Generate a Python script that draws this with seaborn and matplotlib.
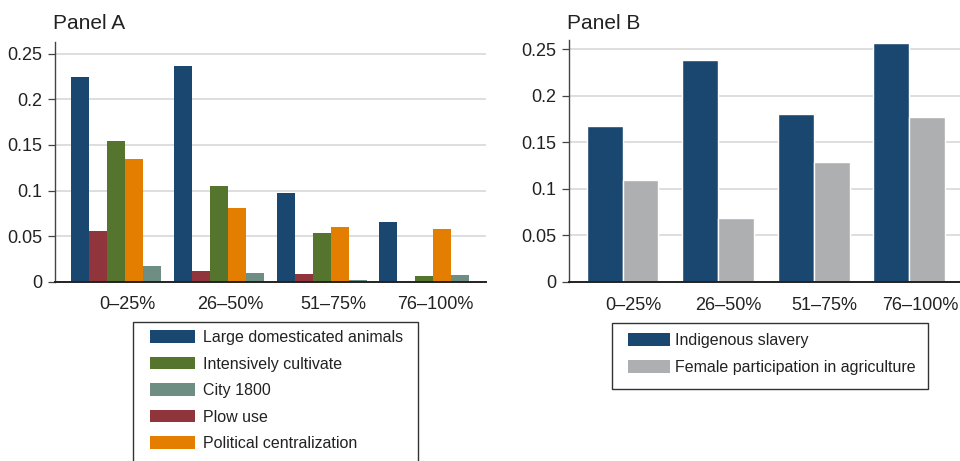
import matplotlib
matplotlib.use("Agg")
import matplotlib.pyplot as plt
import seaborn as sns
import pandas as pd
from matplotlib.patches import Patch, Rectangle

# ---------------- data ----------------
groups = ["0–25%", "26–50%", "51–75%", "76–100%"]

large_animals = [0.225, 0.237, 0.0975, 0.0656]
plow_use = [0.0557, 0.0117, 0.0084, 0.0]
intensive = [0.1547, 0.105, 0.0535, 0.0062]
political = [0.135, 0.081, 0.060, 0.058]
city_1800 = [0.0172, 0.0095, 0.0018, 0.0073]

slavery = [0.168, 0.239, 0.181, 0.2572]
female_agri = [0.110, 0.069, 0.129, 0.177]

yticks = [0, 0.05, 0.1, 0.15, 0.2, 0.25]
ytick_labels = ["0", "0.05", "0.1", "0.15", "0.2", "0.25"]

# ---------------- style ----------------
sns.set_theme(style="white")
plt.rcParams["font.family"] = ["Liberation Sans", "DejaVu Sans"]
TXT = "#222222"

colA = {
    "Large domesticated animals": "#1a476f",
    "Plow use": "#90353b",
    "Intensively cultivate": "#55752f",
    "Political centralization": "#e37e00",
    "City 1800": "#6e8e84",
}
bar_order_A = ["Large domesticated animals", "Plow use", "Intensively cultivate",
               "Political centralization", "City 1800"]
legend_order_A = ["Large domesticated animals", "Intensively cultivate", "City 1800",
                  "Plow use", "Political centralization"]
colB = {"Indigenous slavery": "#1a476f", "Female participation in agriculture": "#aeafb1"}
order_B = ["Indigenous slavery", "Female participation in agriculture"]

seriesA = {
    "Large domesticated animals": large_animals,
    "Plow use": plow_use,
    "Intensively cultivate": intensive,
    "Political centralization": political,
    "City 1800": city_1800,
}
seriesB = {"Indigenous slavery": slavery, "Female participation in agriculture": female_agri}

dfA = pd.DataFrame([(g, s, v) for s, vals in seriesA.items() for g, v in zip(groups, vals)],
                   columns=["group", "series", "value"])
dfB = pd.DataFrame([(g, s, v) for s, vals in seriesB.items() for g, v in zip(groups, vals)],
                   columns=["group", "series", "value"])

W, H = 960, 461
fig = plt.figure(figsize=(W / 100, H / 100), dpi=100)


def px_axes(l, r, b, t):
    return fig.add_axes([l / W, 1 - b / H, (r - l) / W, (b - t) / H])


axA = px_axes(55, 486, 281.7, 42)
axB = px_axes(569, 960, 282, 40)

sns.barplot(data=dfA, x="group", y="value", hue="series", hue_order=bar_order_A,
            order=groups, palette=colA, width=0.876, saturation=1, gap=0,
            linewidth=0, legend=False, ax=axA, zorder=3)
sns.barplot(data=dfB, x="group", y="value", hue="series", hue_order=order_B,
            order=groups, palette=colB, width=0.75, saturation=1, gap=0,
            edgecolor="white", linewidth=1, legend=False, ax=axB, zorder=3)


def style(ax, ytop, xl, xr):
    ax.set_ylim(0, ytop)
    ax.set_xlim(xl, xr)
    ax.set_yticks(yticks)
    ax.set_yticklabels(ytick_labels)
    ax.set_xticks([i + 0.11 for i in range(len(groups))])
    ax.set_xticklabels(groups)
    ax.set_xlabel("")
    ax.set_ylabel("")
    ax.grid(axis="y", color="#d4d4d4", linewidth=1.1, zorder=0)
    ax.grid(axis="x", visible=False)
    ax.set_axisbelow(True)
    for s in ["top", "right"]:
        ax.spines[s].set_visible(False)
    ax.spines["left"].set_color("#444444")
    ax.spines["left"].set_linewidth(1.0)
    ax.spines["bottom"].set_color("#222222")
    ax.spines["bottom"].set_linewidth(1.4)
    ax.spines["bottom"].set_zorder(6)
    ax.spines["left"].set_zorder(6)
    ax.tick_params(axis="y", which="both", left=True, length=5, width=0.9,
                   color="#444444", labelsize=13, labelcolor=TXT, pad=4)
    ax.tick_params(axis="x", bottom=False, length=0, labelsize=13, labelcolor=TXT, pad=10.5)


style(axA, 0.263, -0.594, 3.6)
style(axB, 0.26, -0.56, 3.53)

fig.text(53 / W, 1 - 29 / H, "Panel A", fontsize=15, color=TXT, ha="left", va="baseline")
fig.text(567 / W, 1 - 29 / H, "Panel B", fontsize=15, color=TXT, ha="left", va="baseline")

# legend boxes
fig.patches.append(Rectangle((133 / W, 1 - 470 / H), (418 - 133) / W, (470 - 322) / H,
                             transform=fig.transFigure, fill=False, edgecolor="#333333",
                             linewidth=1.0, zorder=1))
fig.patches.append(Rectangle((612 / W, 1 - 389 / H), (928 - 612) / W, (389 - 323) / H,
                             transform=fig.transFigure, fill=False, edgecolor="#333333",
                             linewidth=1.0, zorder=1))

hA = [Patch(facecolor=colA[k], edgecolor="none") for k in legend_order_A]
legA = fig.legend(hA, legend_order_A, loc="upper left",
                  bbox_to_anchor=(150 / W, 1 - 330 / H), bbox_transform=fig.transFigure,
                  frameon=False, fontsize=11.5, handlelength=2.8, handleheight=0.8,
                  handletextpad=0.5, labelspacing=0.72, borderpad=0, borderaxespad=0)
for t in legA.get_texts():
    t.set_color(TXT)

hB = [Patch(facecolor=colB[k], edgecolor="none") for k in order_B]
legB = fig.legend(hB, order_B, loc="upper left",
                  bbox_to_anchor=(628 / W, 1 - 333 / H), bbox_transform=fig.transFigure,
                  frameon=False, fontsize=11.5, handlelength=2.6, handleheight=0.8,
                  handletextpad=0.35, labelspacing=0.75, borderpad=0, borderaxespad=0)
for t in legB.get_texts():
    t.set_color(TXT)

fig.savefig("out.png", dpi=100)
